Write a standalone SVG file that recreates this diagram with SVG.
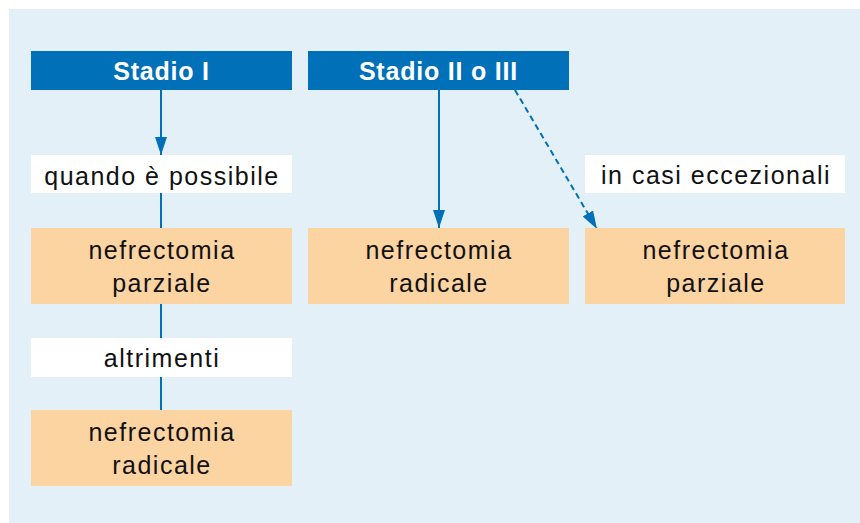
<svg xmlns="http://www.w3.org/2000/svg" width="860" height="523" viewBox="0 0 860 523">
<defs>
<style>
.hdr{fill:#0070b8}
.lbl{fill:#ffffff}
.res{fill:#fcd4a2}
.ht{font-family:"Liberation Sans",Arial,sans-serif;font-weight:bold;font-size:25px;fill:#ffffff;letter-spacing:0.8px;text-anchor:middle}
.tx{font-family:"Liberation Sans",Arial,sans-serif;font-size:25px;fill:#111111;letter-spacing:1.5px;text-anchor:middle}
.ln{stroke:#0070b8;stroke-width:2;fill:none}
.dash{stroke-dasharray:6 4}
</style>
<marker id="ah" viewBox="0 0 18 12" refX="18" refY="6" markerWidth="18" markerHeight="12" markerUnits="userSpaceOnUse" orient="auto">
<path d="M0,0 L18,6 L0,12 Z" fill="#0070b8"/>
</marker>
</defs>
<rect x="9" y="9" width="851" height="514" fill="#e4f0f8"/>
<g id="connectors">
<line class="ln" x1="161" y1="90" x2="161" y2="155" marker-end="url(#ah)"/>
<line class="ln" x1="161" y1="193" x2="161" y2="228"/>
<line class="ln" x1="161" y1="304" x2="161" y2="338"/>
<line class="ln" x1="161" y1="377" x2="161" y2="410"/>
<line class="ln" x1="439" y1="90" x2="439" y2="228" marker-end="url(#ah)"/>
<line class="ln dash" x1="515" y1="90" x2="597" y2="229" marker-end="url(#ah)"/>
</g>
<g id="stadio1">
<rect class="hdr" x="31" y="51" width="261" height="39"/>
<text class="ht" x="161.5" y="80">Stadio I</text>
</g>
<g id="stadio23">
<rect class="hdr" x="308" y="51" width="261" height="39"/>
<text class="ht" x="438.5" y="80">Stadio II o III</text>
</g>
<g id="quando">
<rect class="lbl" x="31" y="155" width="261" height="38"/>
<text class="tx" x="162" y="184.5">quando è possibile</text>
</g>
<g id="eccezionali">
<rect class="lbl" x="585" y="155" width="260" height="38"/>
<text class="tx" x="716" y="184">in casi eccezionali</text>
</g>
<g id="parziale1">
<rect class="res" x="31" y="228" width="261" height="76"/>
<text class="tx" x="162" y="259">nefrectomia</text>
<text class="tx" x="162" y="292">parziale</text>
</g>
<g id="radicale2">
<rect class="res" x="308" y="228" width="261" height="76"/>
<text class="tx" x="439" y="259">nefrectomia</text>
<text class="tx" x="439" y="292">radicale</text>
</g>
<g id="parziale3">
<rect class="res" x="585" y="228" width="260" height="76"/>
<text class="tx" x="716" y="259">nefrectomia</text>
<text class="tx" x="716" y="292">parziale</text>
</g>
<g id="altrimenti">
<rect class="lbl" x="31" y="338" width="261" height="39"/>
<text class="tx" x="162" y="366.5">altrimenti</text>
</g>
<g id="radicale1">
<rect class="res" x="31" y="410" width="261" height="76"/>
<text class="tx" x="162" y="440.5">nefrectomia</text>
<text class="tx" x="162" y="473.5">radicale</text>
</g>
</svg>
